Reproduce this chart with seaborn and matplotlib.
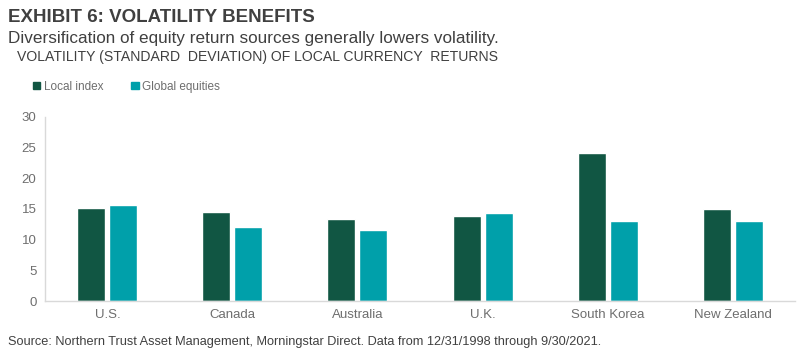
import pandas as pd
import matplotlib.pyplot as plt
import seaborn as sns

countries = ["U.S.", "Canada", "Australia", "U.K.", "South Korea", "New Zealand"]
local_index = [15.2, 14.5, 13.4, 13.8, 24.0, 14.9]
global_equities = [15.6, 12.0, 11.5, 14.4, 13.0, 13.0]
series = ["Local index", "Global equities"]
colors = ["#115643", "#00a0aa"]

df = pd.DataFrame({
    "Country": countries * 2,
    "Series": [series[0]] * 6 + [series[1]] * 6,
    "Value": local_index + global_equities,
})

sns.set_style("white")
plt.rcParams["font.family"] = ["Liberation Sans", "DejaVu Sans"]

fig = plt.figure(figsize=(8, 3.61), dpi=100)
ax = fig.add_axes([0.056, 0.166, 0.938, 0.511])

sns.barplot(data=df, x="Country", y="Value", hue="Series", palette=colors,
            width=0.512, gap=0.125, ax=ax, legend=False, saturation=1)

ax.set_ylim(0, 30)
ax.set_yticks(range(0, 31, 5))
ax.set_xlabel("")
ax.set_ylabel("")
for s in ["top", "right"]:
    ax.spines[s].set_visible(False)
for s in ["left", "bottom"]:
    ax.spines[s].set_color("#d9d9d9")
    ax.spines[s].set_linewidth(1)
ax.tick_params(axis="both", length=0, labelsize=9.5, labelcolor="#6e6e6e", pad=6)

# titles
fig.text(0.01, 0.975, "EXHIBIT 6: VOLATILITY BENEFITS", fontsize=13.5,
         fontweight="bold", color="#404040", va="top")
fig.text(0.01, 0.915, "Diversification of equity return sources generally lowers volatility.",
         fontsize=12.3, color="#404040", va="top")
fig.text(0.021, 0.862, "VOLATILITY (STANDARD  DEVIATION) OF LOCAL CURRENCY  RETURNS",
         fontsize=10.1, color="#404040", va="top")

# legend
handles = [plt.Rectangle((0, 0), 1, 1, color=c) for c in colors]
fig.legend(handles, series, loc="center left", bbox_to_anchor=(0.028, 0.76),
           ncol=2, frameon=False, fontsize=8.5, labelcolor="#6e6e6e",
           handlelength=0.6, handleheight=0.6, handletextpad=0.3, columnspacing=2.4)

fig.text(0.01, 0.052, "Source: Northern Trust Asset Management, Morningstar Direct. "
         "Data from 12/31/1998 through 9/30/2021.", fontsize=9.2, color="#404040",
         va="center")

fig.savefig("out.png", dpi=100)
